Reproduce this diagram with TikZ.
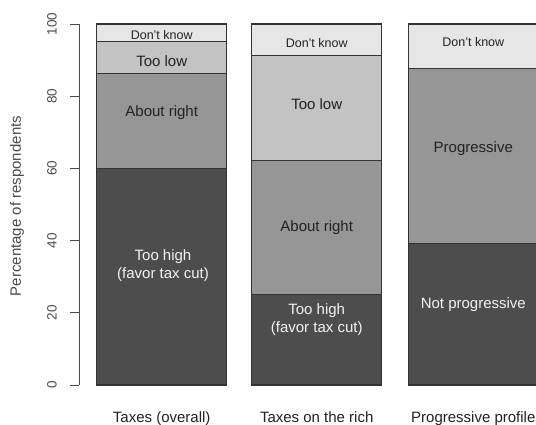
\documentclass[tikz,border=0pt]{standalone}
\usepackage{fontspec}
\setmainfont{Liberation Sans}
\definecolor{shadeA}{HTML}{4D4D4D}
\definecolor{shadeB}{HTML}{969696}
\definecolor{shadeC}{HTML}{C3C3C3}
\definecolor{shadeD}{HTML}{E6E6E6}
\definecolor{edgegray}{HTML}{333333}
\definecolor{axgray}{HTML}{4A4A4A}
\definecolor{inkdark}{HTML}{222222}
\definecolor{inklight}{HTML}{F2F2F2}

\begin{document}
\begin{tikzpicture}[x=1pt,y=1pt]
\tikzstyle{every node}+=[inner sep=0pt]
\tikzstyle{seg}=[draw=edgegray, line width=1.1pt]
\tikzstyle{lab}=[font=\fontsize{15}{18}\selectfont, text=inkdark, align=center]
\tikzstyle{labw}=[lab, text=inklight]
\tikzstyle{small}=[font=\fontsize{12.5}{15}\selectfont, text=inkdark]
\tikzstyle{axis}=[font=\fontsize{13.5}{16}\selectfont, text=axgray]
\useasboundingbox (0,0) rectangle (536,-425);
% y axis
\coordinate (ybot) at (79,-385);
\coordinate (ytop) at (79,-24);
\draw [axgray, line width=0.9pt] (ybot) -- (ytop);
\foreach \v in {0,20,40,60,80,100} {
  \coordinate (tk\v) at (79,-385+3.61*\v);
  \draw [axgray, line width=0.9pt] (tk\v) -- ++(-9,0);
  \node [axis, rotate=90] (tl\v) at (52,-385+3.61*\v) {\v};
}
\node [axis, font=\fontsize{15}{18}\selectfont, rotate=90] (ylab) at (17,-206) {Percentage of respondents};
% Taxes (overall)
\filldraw [seg, fill=shadeA] (96.7,-385) rectangle (226.7,-168.4);
\filldraw [seg, fill=shadeB] (96.7,-168.4) rectangle (226.7,-73.5);
\filldraw [seg, fill=shadeC] (96.7,-73.5) rectangle (226.7,-41.7);
\filldraw [seg, fill=shadeD] (96.7,-41.7) rectangle (226.7,-24);
\node [small] (dk1) at (161.7,-35) {Don't know};
\node [lab] (low1) at (161.7,-61) {Too low};
\node [lab] (right1) at (161.7,-113) {About right};
\node [labw] (high1) at (163,-266) {Too high\\(favor tax cut)};
% Taxes on the rich
\filldraw [seg, fill=shadeA] (251.7,-385) rectangle (381.7,-294.4);
\filldraw [seg, fill=shadeB] (251.7,-294.4) rectangle (381.7,-160.1);
\filldraw [seg, fill=shadeC] (251.7,-160.1) rectangle (381.7,-55.8);
\filldraw [seg, fill=shadeD] (251.7,-55.8) rectangle (381.7,-24);
\node [small] (dk2) at (316.7,-43) {Don't know};
\node [lab] (low2) at (316.7,-104) {Too low};
\node [lab] (right2) at (316.7,-228) {About right};
\node [labw] (high2) at (316.7,-320) {Too high\\(favor tax cut)};
% Progressive profile
\filldraw [seg, fill=shadeA] (408.3,-385) rectangle (538.3,-243.5);
\filldraw [seg, fill=shadeB] (408.3,-243.5) rectangle (538.3,-68.4);
\filldraw [seg, fill=shadeD] (408.3,-68.4) rectangle (538.3,-24);
\node [small] (dk3) at (473.3,-42) {Don't know};
\node [lab] (prog3) at (473.3,-149) {Progressive};
\node [labw] (notprog3) at (473.3,-305) {Not progressive};
% group names
\node [lab, anchor=base] (gname1) at (161.7,-422) {Taxes (overall)};
\node [lab, anchor=base] (gname2) at (316.7,-422) {Taxes on the rich};
\node [lab, anchor=base] (gname3) at (473.3,-422) {Progressive profile};
\end{tikzpicture}
\end{document}
